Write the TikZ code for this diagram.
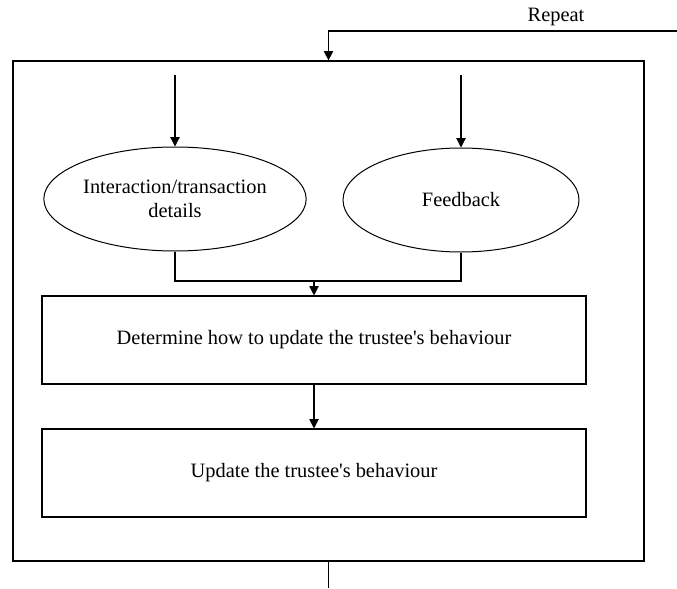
\documentclass[tikz,border=0pt]{standalone}
\usepackage{fontspec}
\setmainfont{Liberation Serif}
\usetikzlibrary{shapes.geometric,arrows.meta}

\tikzset{
	txt/.style={font=\fontsize{15.3pt}{18pt}\selectfont, align=center, inner sep=0.75pt},
	oval/.style={draw, line width=0.75pt, ellipse, minimum width=177pt, minimum height=78pt, txt},
	stepbox/.style={draw, line width=0.8pt, minimum width=408pt, minimum height=66pt, txt},
	conn/.style={line width=0.8pt},
	arr/.style={conn, -{Triangle[length=7pt,width=7pt]}}
}

\begin{document}
\begin{tikzpicture}[x=0.75pt,y=0.75pt,yscale=-1,xscale=1]
	\useasboundingbox (0,0) rectangle (677,588);

	% Text Node
	\node [draw, line width=0.9pt, minimum width=473.25pt, minimum height=375pt] (loop) at (328.5,311) {};
	\node [txt] (rep) at (556,17) {Repeat};
	% Text Node
	\node [oval] (inter) at (175,199) {Interaction/transaction\\details};
	\node [oval] (feed) at (461,200) {Feedback};
	% Text Node
	\node [stepbox] (decide) at (314,340) {Determine how to update the trustee\textquotesingle s behaviour};
	\node [stepbox] (update) at (314,473) {Update the trustee\textquotesingle s behaviour};

	\coordinate (rin) at (677,31);
	\coordinate (rout) at (328.5,588);
	\coordinate (intop) at (175,75);
	\coordinate (fdtop) at (461,75);
	\coordinate (join) at (314,281);

	% Connection
	\draw [arr] (rin) -| (loop.north);
	\draw [conn] (loop.south) -- (rout);
	% Connection
	\draw [arr] (intop) -- (inter.north);
	\draw [arr] (fdtop) -- (feed.north);
	% Connection
	\draw [conn] (inter.south) |- (join);
	\draw [conn] (feed.south) |- (join);
	\draw [arr] (join) -- (decide.north);
	% Connection
	\draw [arr] (decide.south) -- (update.north);

\end{tikzpicture}
\end{document}
